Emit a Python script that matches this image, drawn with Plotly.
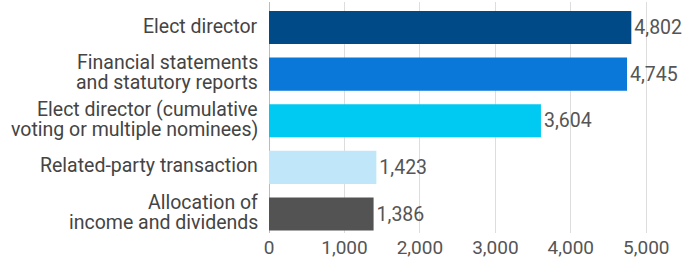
import plotly.graph_objects as go

categories = [
    "Elect director",
    "Financial statements<br>and statutory reports",
    "Elect director (cumulative<br>voting or multiple nominees)",
    "Related-party transaction",
    "Allocation of<br>income and dividends",
]
values = [4802, 4745, 3604, 1423, 1386]
bar_colors = ["#004b87", "#0a78d8", "#00c9f2", "#c0e6f9", "#535353"]
tick_vals = [0, 1000, 2000, 3000, 4000, 5000]
tick_text = ["0", "1,000", "2,000", "3,000", "4,000", "5,000"]

fig = go.Figure(
    go.Bar(
        y=categories,
        x=values,
        orientation="h",
        marker=dict(color=bar_colors, line=dict(width=0)),
        text=[f"{v:,}" for v in values],
        textposition="outside",
        textfont=dict(family="Roboto", size=19.5, color="#555555"),
        cliponaxis=False,
    )
)

# category labels as separate lines (tighter line spacing than Plotly's default)
LINE = 20.5
for cat in categories:
    lines = cat.split("<br>")
    n = len(lines)
    for i, line in enumerate(lines):
        fig.add_annotation(
            x=0, xref="x", y=cat, yref="y",
            text=line, showarrow=False,
            xanchor="right", yanchor="middle",
            xshift=-9,
            yshift=((n - 1) / 2 - i) * LINE + 1.5,
            font=dict(family="Roboto", size=19.5, color="#444444"),
        )

fig.update_layout(
    width=688,
    height=259,
    margin=dict(l=269, r=4, t=2, b=26),
    paper_bgcolor="white",
    plot_bgcolor="white",
    bargap=0.29,
    showlegend=False,
    font=dict(family="Roboto", size=19.5, color="#444444"),
)
fig.update_xaxes(
    range=[0, 5500],
    tickvals=tick_vals,
    ticktext=tick_text,
    showgrid=True,
    gridcolor="#dddddd",
    gridwidth=1,
    zeroline=True,
    zerolinecolor="#bbbbbb",
    zerolinewidth=1,
    tickfont=dict(family="Roboto", size=19, color="#555555"),
    ticks="",
    ticklabelstandoff=1,
    automargin=False,
)
fig.update_yaxes(
    range=[4.4075, -0.547],
    showticklabels=False,
    ticks="",
    showgrid=False,
    automargin=False,
)

fig.write_html(
    "out.html",
    config={"displayModeBar": False},
    post_script="document.body.style.margin='0';document.body.style.padding='0';",
)
